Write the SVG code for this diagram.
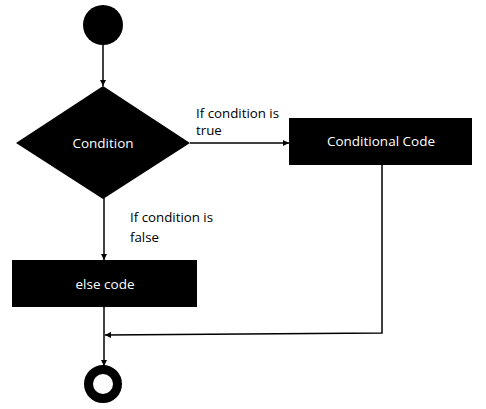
<svg xmlns="http://www.w3.org/2000/svg" width="486" height="409" viewBox="0 0 486 409">
<style>
.lbl{font-family:"Open Sans","Liberation Sans",sans-serif;font-size:13.3px;fill:#000}
.in{font-family:"Open Sans","Liberation Sans",sans-serif;font-size:13.5px;fill:#fff;text-anchor:middle;dominant-baseline:central}
.ln{stroke:#000;stroke-width:1.5;fill:none;marker-end:url(#ah)}
</style>
<defs>
<marker id="ah" viewBox="0 0 10 10" refX="10" refY="5" markerWidth="6" markerHeight="6" markerUnits="userSpaceOnUse" orient="auto">
<path d="M0,0 L10,5 L0,10 z" fill="#000"/>
</marker>
</defs>
<rect width="486" height="409" fill="#fff"/>
<g id="connectors">
<line class="ln" x1="103" y1="45" x2="103" y2="86"/>
<line class="ln" x1="190" y1="143" x2="289" y2="143"/>
<line class="ln" x1="104" y1="198" x2="104" y2="260"/>
<polyline class="ln" points="382,165 382,333 105,335"/>
<line class="ln" x1="104" y1="307" x2="104" y2="366"/>
</g>
<g id="start"><circle cx="103" cy="25" r="20" fill="#000"/></g>
<g id="condition">
<polygon points="103,86 190,143 103,199 16,143" fill="#000"/>
<text class="in" x="103" y="143">Condition</text>
</g>
<g id="conditional-code">
<rect x="289" y="118" width="183" height="47" fill="#000"/>
<text class="in" x="381" y="141">Conditional Code</text>
</g>
<g id="else-code">
<rect x="12" y="260" width="185" height="47" fill="#000"/>
<text class="in" x="105" y="284">else code</text>
</g>
<g id="end"><circle cx="103" cy="384" r="14.5" fill="#fff" stroke="#000" stroke-width="9"/></g>
<g id="labels">
<text class="lbl" x="196" y="118">If condition is</text>
<text class="lbl" x="196" y="135">true</text>
<text class="lbl" x="130" y="222">If condition is</text>
<text class="lbl" x="130" y="242">false</text>
</g>
</svg>
